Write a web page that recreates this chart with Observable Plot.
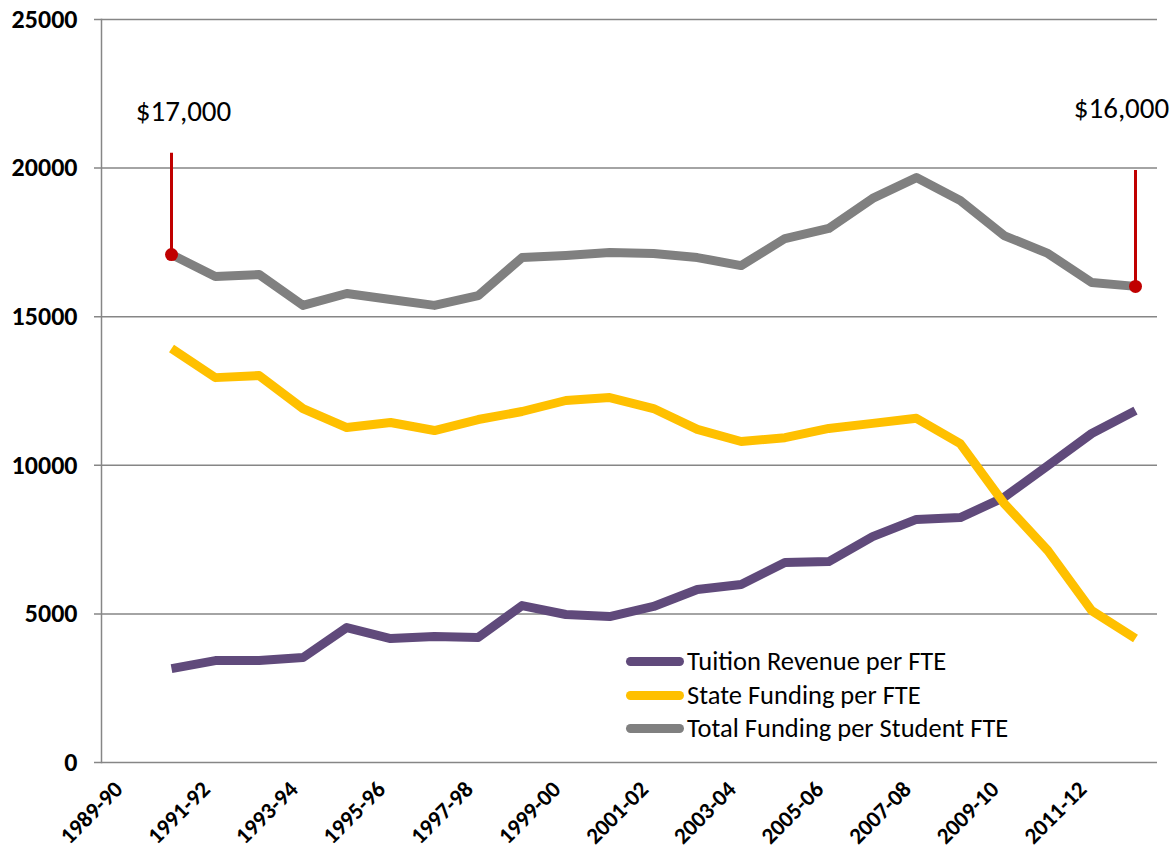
<!DOCTYPE html>
<html>
<head>
<meta charset="utf-8">
<script src="https://cdn.jsdelivr.net/npm/d3@7"></script>
<script src="https://cdn.jsdelivr.net/npm/@observablehq/plot@0.6"></script>
<style>
  html, body { margin: 0; padding: 0; background: #fff; }
  #wrap { position: relative; width: 1173px; height: 846px; font-family: Carlito, Lato, "Open Sans", sans-serif; }
  #legend { position: absolute; left: 626px; top: 645px; font-size: 26.5px; color: #000; line-height: 33.5px; }
  #legend .row { display: flex; align-items: center; white-space: nowrap; height: 33.5px; }
  #legend .sw { width: 58px; height: 9px; border-radius: 5px; margin-right: 3px; }
</style>
</head>
<body>
<div id="wrap"></div>
<script>
const years = ["1989-90","1990-91","1991-92","1992-93","1993-94","1994-95","1995-96","1996-97","1997-98","1998-99","1999-00","2000-01","2001-02","2002-03","2003-04","2004-05","2005-06","2006-07","2007-08","2008-09","2009-10","2010-11","2011-12","2012-13"];
const tickLabels = ["1989-90","1991-92","1993-94","1995-96","1997-98","1999-00","2001-02","2003-04","2005-06","2007-08","2009-10","2011-12"];
const dataYears = years.slice(1);
const tuition = [3160,3430,3430,3530,4540,4170,4240,4210,5280,4980,4910,5250,5820,5990,6730,6760,7600,8180,8240,8920,9990,11070,11840];
const state = [13930,12950,13020,11910,11270,11440,11170,11540,11810,12180,12280,11910,11210,10800,10930,11240,11410,11580,10730,8720,7130,5110,4170];
const total = [17090,16350,16420,15380,15780,15580,15380,15710,16990,17060,17160,17130,16990,16720,17630,17970,18980,19680,18910,17730,17130,16150,16020];
const seriesNames = ["Tuition Revenue per FTE","State Funding per FTE","Total Funding per Student FTE"];
const seriesColors = ["#604a7b","#ffc000","#808080"];
const yTicks = [0,5000,10000,15000,20000,25000];
const callouts = [
  {year: "1990-91", value: 17090, top: 20500, label: "$17,000", textY: 21900},
  {year: "2012-13", value: 16020, top: 19920, label: "$16,000", textY: 22000}
];

const rows = [];
[tuition, state, total].forEach((arr, si) => arr.forEach((v, i) => rows.push({year: dataYears[i], value: v, series: seriesNames[si]})));

const font = "Carlito, Lato, 'Open Sans', sans-serif";
const plot = Plot.plot({
  width: 1173,
  height: 846,
  marginLeft: 101,
  marginRight: 16,
  marginTop: 19,
  marginBottom: 84,
  style: {fontFamily: font, background: "#fff", color: "#000", overflow: "visible"},
  x: {type: "point", domain: years, range: [127.2, 1135], padding: 0, round: false, axis: null},
  y: {domain: [0, 25000]},
  color: {domain: seriesNames, range: seriesColors},
  marks: [
    Plot.ruleY(yTicks, {stroke: "#868686", strokeWidth: 1.5, insetLeft: -7}),
    Plot.frame({anchor: "left", stroke: "#868686", strokeWidth: 1.5}),
    Plot.axisY({ticks: yTicks, tickSize: 0, tickPadding: 24, fontSize: 26, fontWeight: "bold", tickFormat: d => String(d), label: null}),
    Plot.text(tickLabels, {x: d => d, frameAnchor: "bottom", rotate: -45, textAnchor: "end", lineAnchor: "middle", dx: -9, dy: 23, fontSize: 23, fontWeight: "bold", fill: "#000"}),
    Plot.line(rows, {x: "year", y: "value", z: "series", stroke: "series", strokeWidth: 9, strokeLinejoin: "round", strokeLinecap: "butt"}),
    Plot.ruleX(callouts, {x: "year", y1: "value", y2: "top", stroke: "#c00000", strokeWidth: 3}),
    Plot.dot(callouts, {x: "year", y: "value", r: 6.5, fill: "#c00000"}),
    Plot.text(callouts.slice(0, 1), {x: "year", y: "textY", text: "label", dx: 12, fontSize: 29, fill: "#000"}),
    Plot.text(callouts.slice(1), {x: "year", y: "textY", text: "label", dx: -14, fontSize: 29, fill: "#000"})
  ]
});
document.getElementById("wrap").appendChild(plot);

const legend = document.createElement("div");
legend.id = "legend";
seriesNames.forEach((n, i) => {
  const r = document.createElement("div");
  r.className = "row";
  r.innerHTML = `<div class="sw" style="background:${seriesColors[i]}"></div><span>${n}</span>`;
  legend.appendChild(r);
});
document.getElementById("wrap").appendChild(legend);
</script>
</body>
</html>
